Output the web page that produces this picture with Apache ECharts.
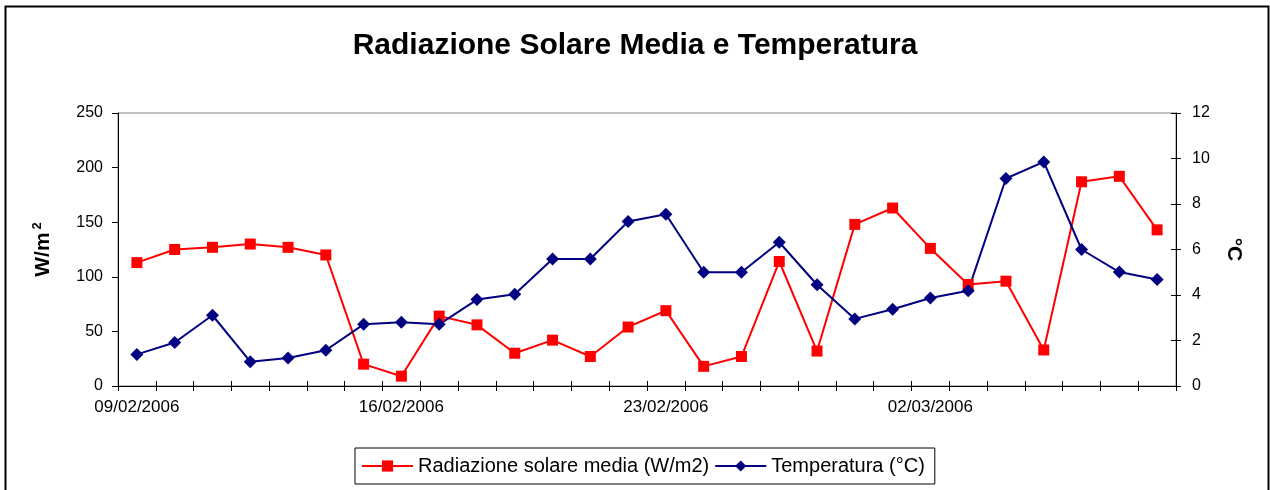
<!DOCTYPE html>
<html>
<head>
<meta charset="utf-8">
<script src="https://cdn.jsdelivr.net/npm/echarts@6/dist/echarts.min.js"></script>
<style>
html,body{margin:0;padding:0;background:#fff;}
#c{width:1270px;height:490px;}
</style>
</head>
<body>
<div id="c"></div>
<script>
const dates = ['09/02/2006','10/02/2006','11/02/2006','12/02/2006','13/02/2006','14/02/2006','15/02/2006',
  '16/02/2006','17/02/2006','18/02/2006','19/02/2006','20/02/2006','21/02/2006','22/02/2006',
  '23/02/2006','24/02/2006','25/02/2006','26/02/2006','27/02/2006','28/02/2006','01/03/2006',
  '02/03/2006','03/03/2006','04/03/2006','05/03/2006','06/03/2006','07/03/2006','08/03/2006'];
const radiazione = [113, 125, 127, 130, 127, 120, 20, 9, 64, 56, 30, 42, 27, 54, 69, 18, 27, 114, 32, 148, 163, 126, 93, 96, 33, 187, 192, 143];
const temperatura = [1.39, 1.91, 3.11, 1.07, 1.23, 1.57, 2.71, 2.80, 2.71, 3.80, 4.03, 5.58, 5.58, 7.23, 7.55, 5.00, 5.00, 6.32, 4.45, 2.95, 3.37, 3.87, 4.19, 9.12, 9.85, 6.00, 5.01, 4.68];
const seriesNames = ['Radiazione solare media (W/m2)', 'Temperatura (°C)'];
const titleText = 'Radiazione Solare Media e Temperatura';

const FONT = '"Liberation Sans", Arial, sans-serif';
const chart = echarts.init(document.getElementById('c'));
const baseY2 = {
  type: 'value', min: 0, max: 12, interval: 2, position: 'right',
  splitLine: { show: false }
};
chart.setOption({
  backgroundColor: '#fff',
  animation: false,
  title: {
    text: titleText, left: 'center', top: 31, padding: 0,
    textStyle: { fontFamily: FONT, fontSize: 30, fontWeight: 'bold', color: '#000' }
  },
  graphic: [{
    type: 'rect', shape: { x: 5.5, y: 6.5, width: 1263, height: 500 },
    style: { fill: 'none', stroke: '#000', lineWidth: 2 }, silent: true, z: -1
  }],
  legend: {
    left: 355, top: 448, padding: [8, 10, 8, 6],
    borderColor: '#000', borderWidth: 1,
    itemWidth: 51, itemHeight: 14, itemGap: 5,
    textStyle: { fontFamily: FONT, fontSize: 20, color: '#000' },
    data: seriesNames
  },
  grid: {
    left: 118, right: 94, top: 113, bottom: 104,
    show: true, borderColor: '#808080', borderWidth: 1
  },
  xAxis: [{
    type: 'category', data: dates, boundaryGap: true,
    axisLine: { lineStyle: { color: '#000', width: 1 } },
    axisTick: { show: true, interval: 0, length: 5, lineStyle: { color: '#000' } },
    axisLabel: { interval: 6, fontFamily: FONT, fontSize: 17, color: '#000', margin: 13 },
    splitLine: { show: false }
  }, {
    type: 'category', data: dates, boundaryGap: true, position: 'bottom',
    axisLine: { show: false },
    axisTick: { show: true, inside: true, interval: 0, length: 5, lineStyle: { color: '#000' } },
    axisLabel: { show: false },
    splitLine: { show: false }
  }],
  yAxis: [{
    type: 'value', min: 0, max: 250, interval: 50, position: 'left',
    axisLine: { show: true, lineStyle: { color: '#000', width: 1 } },
    axisTick: { show: true, length: 6, lineStyle: { color: '#000' } },
    axisLabel: { fontFamily: FONT, fontSize: 16, color: '#000', margin: 15 },
    splitLine: { show: false },
    name: '{a|W/m}{b|2}',
    nameLocation: 'middle', nameGap: 62,
    nameTextStyle: {
      rich: {
        a: { fontFamily: FONT, fontSize: 21, fontWeight: 'bold', color: '#000' },
        b: { fontFamily: FONT, fontSize: 13, fontWeight: 'bold', color: '#000', verticalAlign: 'top', padding: [0, 0, 12, 3] }
      }
    }
  }, Object.assign({}, baseY2, {
    axisLine: { show: true, lineStyle: { color: '#000', width: 1 } },
    axisTick: { show: true, length: 5, lineStyle: { color: '#000' } },
    axisLabel: { fontFamily: FONT, fontSize: 16, color: '#000', margin: 16 },
    name: '°C', nameLocation: 'middle', nameGap: 47, nameRotate: -90,
    nameTextStyle: { fontFamily: FONT, fontSize: 21, fontWeight: 'bold', color: '#000' }
  }), Object.assign({}, baseY2, {
    axisLine: { show: false },
    axisTick: { show: true, inside: true, length: 5, lineStyle: { color: '#000' } },
    axisLabel: { show: false }
  })],
  series: [{
    name: seriesNames[0], type: 'line', data: radiazione,
    xAxisIndex: 0, yAxisIndex: 0,
    symbol: 'rect', symbolSize: 11,
    lineStyle: { color: '#FF0000', width: 2 },
    itemStyle: { color: '#FF0000' }
  }, {
    name: seriesNames[1], type: 'line', data: temperatura,
    xAxisIndex: 0, yAxisIndex: 1,
    symbol: 'diamond', symbolSize: 13,
    lineStyle: { color: '#000080', width: 2 },
    itemStyle: { color: '#000080' }
  }]
});
</script>
</body>
</html>
